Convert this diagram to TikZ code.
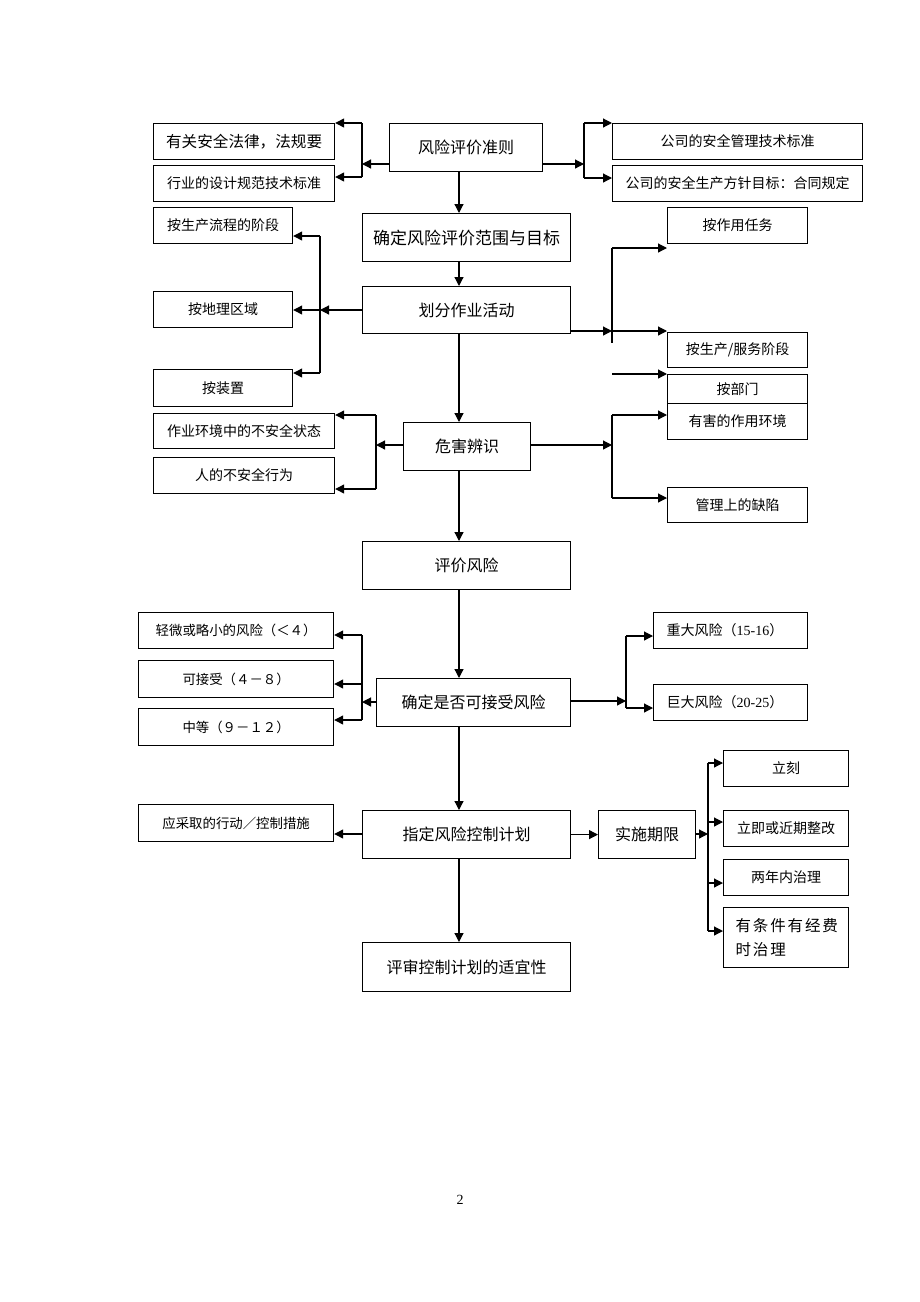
\documentclass[tikz,border=0pt]{standalone}
\usepackage{fontspec}
\setmainfont{Liberation Serif}
\newfontfamily\cjk{Noto Sans CJK SC}
\newfontfamily\cjkwide[LetterSpace=12]{Noto Sans CJK SC}
\usetikzlibrary{positioning,arrows.meta}

\begin{document}
\begin{tikzpicture}[x=1pt,y=-1pt,>={Triangle[length=9pt,width=9pt]},line width=1.2pt]
  \tikzstyle{big}=[draw,anchor=north west,inner sep=0pt,
    font=\cjk\fontsize{16}{19}\selectfont]
  \tikzstyle{sml}=[draw,anchor=north west,inner sep=0pt,
    font=\cjk\fontsize{14}{17}\selectfont]
  \tikzstyle{tiny}=[draw,anchor=north west,inner sep=0pt,
    font=\cjk\fontsize{13.4}{16}\selectfont]
  \useasboundingbox (0,0) rectangle (920,1302);

  % main column
  \node[big,minimum width=153pt,minimum height=48pt] (crit) at (389,123) {风险评价准则};
  \node[big,minimum width=208pt,minimum height=48pt,font=\cjk\fontsize{17}{20}\selectfont] (scope) at (362,213) {确定风险评价范围与目标};
  \node[big,minimum width=208pt,minimum height=47pt] (act) at (362,286) {划分作业活动};
  \node[big,minimum width=127pt,minimum height=48pt] (haz) at (403,422) {危害辨识};
  \node[big,minimum width=208pt,minimum height=48pt] (eval) at (362,541) {评价风险};
  \node[big,minimum width=194pt,minimum height=48pt] (acc) at (376,678) {确定是否可接受风险};
  \node[big,minimum width=208pt,minimum height=48pt] (plan) at (362,810) {指定风险控制计划};
  \node[big,minimum width=208pt,minimum height=49pt] (review) at (362,942) {评审控制计划的适宜性};
  \node[big,minimum width=97pt,minimum height=48pt] (impl) at (598,810) {实施期限};

  % left side
  \node[sml,minimum width=181pt,minimum height=36pt,font=\cjk\fontsize{15.6}{18}\selectfont] (law) at (153,123) {有关安全法律，法规要};
  \node[sml,minimum width=181pt,minimum height=36pt] (ind) at (153,165) {行业的设计规范技术标准};
  \node[sml,minimum width=139pt,minimum height=36pt] (flow) at (153,207) {按生产流程的阶段};
  \node[sml,minimum width=139pt,minimum height=36pt] (geo) at (153,291) {按地理区域};
  \node[sml,minimum width=139pt,minimum height=37pt] (dev) at (153,369) {按装置};
  \node[sml,minimum width=181pt,minimum height=35pt] (unsafe) at (153,413) {作业环境中的不安全状态};
  \node[sml,minimum width=181pt,minimum height=36pt] (human) at (153,457) {人的不安全行为};
  \node[tiny,minimum width=195pt,minimum height=36pt] (low) at (138,612) {轻微或略小的风险（＜４）};
  \node[tiny,minimum width=195pt,minimum height=37pt] (ok) at (138,660) {可接受（４－８）};
  \node[tiny,minimum width=195pt,minimum height=37pt] (mid) at (138,708) {中等（９－１２）};
  \node[tiny,minimum width=195pt,minimum height=37pt] (meas) at (138,804) {应采取的行动／控制措施};

  % right side
  \node[sml,minimum width=250pt,minimum height=36pt] (cstd) at (612,123) {公司的安全管理技术标准};
  \node[sml,minimum width=250pt,minimum height=36pt] (cpol) at (612,165) {公司的安全生产方针目标：合同规定};
  \node[sml,minimum width=140pt,minimum height=36pt] (task) at (667,207) {按作用任务};
  \node[sml,minimum width=140pt,minimum height=35pt] (stage) at (667,332) {按生产/服务阶段};
  \node[sml,minimum width=140pt,minimum height=29pt] (dept) at (667,374) {按部门};
  \node[sml,minimum width=140pt,minimum height=36pt] (env) at (667,403) {有害的作用环境};
  \node[sml,minimum width=140pt,minimum height=35pt] (mgmt) at (667,487) {管理上的缺陷};
  \node[sml,minimum width=154pt,minimum height=36pt,text width=128pt,inner xsep=13pt,align=left] (major) at (653,612) {重大风险（{\rmfamily 15-16}）};
  \node[sml,minimum width=154pt,minimum height=36pt,text width=128pt,inner xsep=13pt,align=left] (huge) at (653,684) {巨大风险（{\rmfamily 20-25}）};
  \node[sml,minimum width=125pt,minimum height=36pt] (now) at (723,750) {立刻};
  \node[sml,minimum width=125pt,minimum height=36pt] (soon) at (723,810) {立即或近期整改};
  \node[sml,minimum width=125pt,minimum height=36pt] (two) at (723,859) {两年内治理};
  \node[sml,minimum width=125pt,minimum height=60pt,inner xsep=12pt,text width=101pt,align=left,
    font=\cjkwide\fontsize{15.5}{24}\selectfont] (fund) at (723,907) {有条件有经费\\时治理};

  \node[font=\fontsize{14}{16}\selectfont] (pgnum) at (460,1200) {2};

  % spine
  \coordinate (sp) at (459,0);
  \draw[->] (sp |- crit.south) -- (sp |- scope.north);
  \draw[->] (sp |- scope.south) -- (sp |- act.north);
  \draw[->] (sp |- act.south) -- (sp |- haz.north);
  \draw[->] (sp |- haz.south) -- (sp |- eval.north);
  \draw[->] (sp |- eval.south) -- (sp |- acc.north);
  \draw[->] (sp |- acc.south) -- (sp |- plan.north);
  \draw[->] (sp |- plan.south) -- (sp |- review.north);

  % criteria branches
  \coordinate (cl) at (362,164);
  \coordinate (cla) at (362,123);
  \coordinate (clb) at (362,177);
  \draw[->] (crit.west |- cl) -- (cl);
  \draw (cla) -- (clb);
  \draw[->] (cla) -- (law.east |- cla);
  \draw[->] (clb) -- (ind.east |- clb);
  \coordinate (cr) at (584,164);
  \coordinate (cra) at (584,123);
  \coordinate (crb) at (584,178);
  \draw[->] (crit.east |- cr) -- (cr);
  \draw (cra) -- (crb);
  \draw[->] (cra) -- (cstd.west |- cra);
  \draw[->] (crb) -- (cpol.west |- crb);

  % activity branches
  \coordinate (al) at (320,310);
  \coordinate (ala) at (320,236);
  \coordinate (alb) at (320,373);
  \draw[->] (act.west |- al) -- (al);
  \draw (ala) -- (alb);
  \draw[->] (ala) -- (flow.east |- ala);
  \draw[->] (al) -- (geo.east |- al);
  \draw[->] (alb) -- (dev.east |- alb);
  \coordinate (ar) at (612,331);
  \coordinate (ara) at (612,248);
  \coordinate (arb) at (612,343);
  \coordinate (ard) at (612,374);
  \draw[->] (act.east |- ar) -- (ar);
  \draw (ara) -- (arb);
  \draw[->] (ara) -- (task.west |- ara);
  \draw[->] (ar) -- (stage.west |- ar);
  \draw[->] (ard) -- (dept.west |- ard);

  % hazard branches
  \coordinate (hl) at (376,445);
  \coordinate (hla) at (376,415);
  \coordinate (hlb) at (376,489);
  \draw[->] (haz.west |- hl) -- (hl);
  \draw (hla) -- (hlb);
  \draw[->] (hla) -- (unsafe.east |- hla);
  \draw[->] (hlb) -- (human.east |- hlb);
  \coordinate (hr) at (612,445);
  \coordinate (hra) at (612,415);
  \coordinate (hrb) at (612,498);
  \draw[->] (haz.east |- hr) -- (hr);
  \draw (hra) -- (hrb);
  \draw[->] (hra) -- (env.west |- hra);
  \draw[->] (hrb) -- (mgmt.west |- hrb);

  % acceptance branches
  \coordinate (kl) at (362,702);
  \coordinate (kla) at (362,635);
  \coordinate (klm) at (362,684);
  \coordinate (klb) at (362,720);
  \draw[->] (acc.west |- kl) -- (kl);
  \draw (kla) -- (klb);
  \draw[->] (kla) -- (low.east |- kla);
  \draw[->] (klm) -- (ok.east |- klm);
  \draw[->] (klb) -- (mid.east |- klb);
  \coordinate (kr) at (626,701);
  \coordinate (kra) at (626,636);
  \coordinate (krb) at (626,708);
  \draw[->] (acc.east |- kr) -- (kr);
  \draw (kra) -- (krb);
  \draw[->] (kra) -- (major.west |- kra);
  \draw[->] (krb) -- (huge.west |- krb);

  % control plan branches
  \draw[->] (plan.west |- 0,834) -- (meas.east |- 0,834);
  \draw[->] (plan.east |- impl.west) -- (impl.west);
  \coordinate (ir) at (708,834);
  \coordinate (ira) at (708,763);
  \coordinate (irb) at (708,822);
  \coordinate (irc) at (708,883);
  \coordinate (ird) at (708,931);
  \draw[->] (impl.east |- ir) -- (ir);
  \draw (ira) -- (ird);
  \draw[->] (ira) -- (now.west |- ira);
  \draw[->] (irb) -- (soon.west |- irb);
  \draw[->] (irc) -- (two.west |- irc);
  \draw[->] (ird) -- (fund.west |- ird);
\end{tikzpicture}
\end{document}
